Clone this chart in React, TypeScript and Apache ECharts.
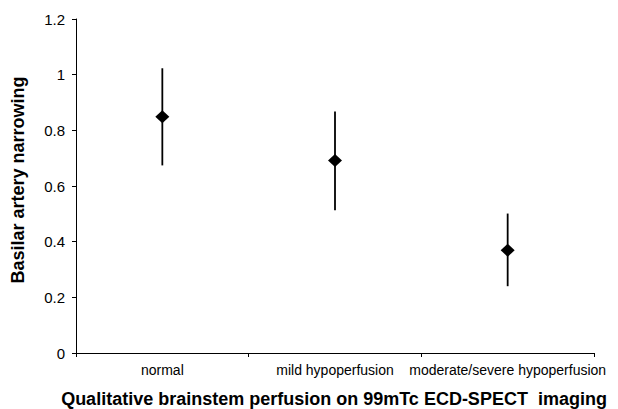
import React, { useEffect, useRef } from "react";
import * as echarts from "echarts";

const categories = ["normal", "mild hypoperfusion", "moderate/severe hypoperfusion"];
const meanValues = [0.849, 0.692, 0.369];
const upperValues = [1.023, 0.868, 0.501];
const lowerValues = [0.674, 0.513, 0.24];
const yTicks = [0, 0.2, 0.4, 0.6, 0.8, 1, 1.2];

const xTitle = "Qualitative brainstem perfusion on 99mTc ECD-SPECT  imaging";
const yTitle = "Basilar artery narrowing";

const FONT = "Arial, 'Liberation Sans', Helvetica, sans-serif";

export default function App() {
  const ref = useRef<HTMLDivElement>(null);
  useEffect(() => {
    if (!ref.current) return;
    const chart = echarts.init(ref.current, null, { renderer: "svg" });
    const errData = categories.map((c, i) => [i, lowerValues[i], upperValues[i]]);
    chart.setOption({
      animation: false,
      backgroundColor: "#ffffff",
      grid: { left: 76, right: 24, top: 19, bottom: 56 },
      xAxis: {
        type: "category",
        data: categories,
        boundaryGap: true,
        axisLine: { lineStyle: { color: "#000", width: 1 } },
        axisTick: { show: true, inside: false, length: 4, lineStyle: { color: "#000" } },
        axisLabel: { color: "#000", fontSize: 14, fontFamily: FONT, margin: 10, interval: 0 },
        splitLine: { show: false },
      },
      yAxis: {
        type: "value",
        min: yTicks[0],
        max: yTicks[yTicks.length - 1],
        interval: 0.2,
        axisLine: { show: true, lineStyle: { color: "#000", width: 1 } },
        axisTick: { show: true, inside: false, length: 4, lineStyle: { color: "#000" } },
        axisLabel: {
          color: "#000",
          fontSize: 15,
          fontFamily: FONT,
          margin: 11,
          formatter: (v: number) => String(Math.round(v * 10) / 10),
        },
        splitLine: { show: false },
      },
      graphic: [
        {
          type: "text",
          x: 334,
          y: 399,
          style: {
            text: xTitle,
            font: `bold 18px ${FONT}`,
            fill: "#000",
            align: "center",
            verticalAlign: "middle",
          },
        },
        {
          type: "text",
          x: 18,
          y: 180,
          rotation: Math.PI / 2,
          style: {
            text: yTitle,
            font: `bold 18px ${FONT}`,
            fill: "#000",
            align: "center",
            verticalAlign: "middle",
          },
        },
      ],
      series: [
        {
          type: "custom",
          data: errData,
          renderItem: (params: any, api: any) => {
            const x = api.value(0);
            const lo = api.coord([x, api.value(1)]);
            const hi = api.coord([x, api.value(2)]);
            return {
              type: "line",
              shape: { x1: lo[0], y1: lo[1], x2: hi[0], y2: hi[1] },
              style: { stroke: "#000", lineWidth: 1.8 },
            };
          },
          z: 1,
        },
        {
          type: "scatter",
          data: meanValues,
          symbol: "diamond",
          symbolSize: [14, 13],
          itemStyle: { color: "#000", opacity: 1 },
          z: 2,
        },
      ],
    });
    return () => chart.dispose();
  }, []);
  return (
    <div
      ref={ref}
      style={{ position: "absolute", left: 0, top: 0, width: 618, height: 409, background: "#fff" }}
    />
  );
}
